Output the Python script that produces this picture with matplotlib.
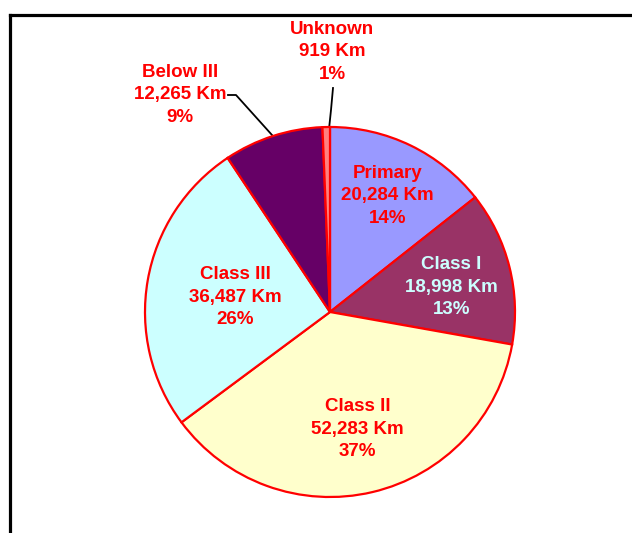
import numpy as np
import matplotlib.pyplot as plt
from matplotlib.lines import Line2D

# Road lengths by class
categories = ['Primary', 'Class I', 'Class II', 'Class III', 'Below III', 'Unknown']
lengths_km = [20284, 18998, 52283, 36487, 12265, 919]
percents = [14, 13, 37, 26, 9, 1]
colors = ['#9999FF', '#993366', '#FFFFCC', '#CCFFFF', '#660066', '#FF8080']
label_colors = ['#FF0000', '#CCFFFF', '#FF0000', '#FF0000', '#FF0000', '#FF0000']

W, H = 632, 533
fig = plt.figure(figsize=(W / 100, H / 100), dpi=100)
ax = fig.add_axes([0, 0, 1, 1])

cx, cy, r = 330, H - 312, 185
wedges, _ = ax.pie(lengths_km, colors=colors, startangle=90, counterclock=False,
                   center=(cx, cy), radius=r, frame=True,
                   wedgeprops=dict(edgecolor='#FF0000', linewidth=1.6))
ax.set_xlim(0, W)
ax.set_ylim(0, H)
ax.set_aspect('equal')
ax.axis('off')

font = dict(family=['Liberation Sans', 'Arial', 'DejaVu Sans'], fontsize=13.5,
            fontweight='bold', ha='center', va='center', linespacing=1.45)

def label(i):
    return f"{categories[i]}\n{lengths_km[i]:,} Km\n{percents[i]}%"

# inside labels: distance as fraction of radius, small angle nudge (deg)
inner_dist = [0.70, 0.67, 0.65, 0.52]
inner_nudge = [-0.5, -2.5, 0, 1]
for i, d in enumerate(inner_dist):
    w = wedges[i]
    ang = np.deg2rad((w.theta1 + w.theta2) / 2 + inner_nudge[i])
    ax.text(cx + d * r * np.cos(ang), cy + d * r * np.sin(ang), label(i),
            color=label_colors[i], **font)

def edge_point(w):
    ang = np.deg2rad((w.theta1 + w.theta2) / 2)
    return cx + r * np.cos(ang), cy + r * np.sin(ang)

# Below III - outside with elbow leader
ax.text(180, H - 95, label(4), color=label_colors[4], **font)
ex, ey = edge_point(wedges[4])
ax.plot([228, 236, ex], [H - 95, H - 95, ey], color='black', lw=1.3, zorder=0)

# Unknown - outside with leader
ax.text(332, H - 52, label(5), color=label_colors[5], **font)
ex, ey = edge_point(wedges[5])
ax.plot([333, 331, ex + 3], [H - 88, H - 110, ey], color='black', lw=1.3, zorder=0)

# cropped black frame
fig.add_artist(Line2D([10 / W, 10 / W], [0, 1 - 15 / H], color='black', lw=2.3,
                      transform=fig.transFigure))
fig.add_artist(Line2D([10 / W, 1.0], [1 - 15 / H, 1 - 15 / H], color='black', lw=2.3,
                      transform=fig.transFigure))

fig.savefig('out.png', dpi=100, facecolor='white')
